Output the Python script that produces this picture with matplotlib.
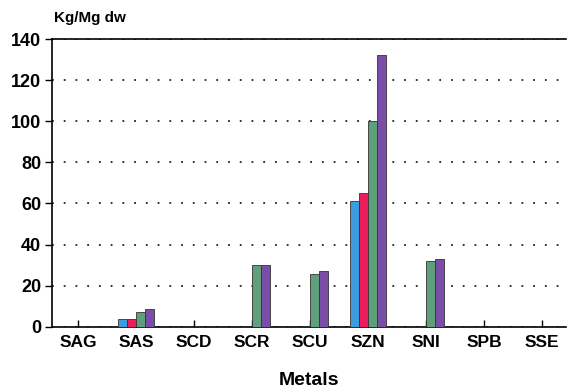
import numpy as np
import matplotlib.pyplot as plt

plt.rcParams['font.family'] = ['Liberation Sans', 'DejaVu Sans']

metals = ["SAG", "SAS", "SCD", "SCR", "SCU", "SZN", "SNI", "SPB", "SSE"]
# four series per metal (blue, red, green, purple); 0 = no bar
blue = [0, 4, 0, 0, 0, 61, 0, 0, 0]
red = [0, 4, 0, 0, 0, 65, 0, 0, 0]
green = [0, 7, 0, 30, 25.5, 100, 32, 0, 0]
purple = [0, 8.5, 0, 30, 27, 132, 33, 0, 0]

series = [blue, red, green, purple]
colors = ["#3b9ce0", "#ec1d5c", "#5f9f7c", "#7a4ea6"]

fig = plt.figure(figsize=(5.67, 3.9), dpi=100)
ax = fig.add_axes([0.092, 0.162, 0.906, 0.738])

x = np.arange(len(metals))
w = 0.155
for i, (vals, c) in enumerate(zip(series, colors)):
    v = np.array(vals, dtype=float)
    mask = v > 0
    ax.bar(x[mask] + (i - 1.5) * w, v[mask], width=w, color=c,
           edgecolor="#333333", linewidth=0.6, zorder=3)

ax.set_xlim(-0.45, 8.41)
ax.set_ylim(0, 140)
ax.set_yticks(range(0, 141, 20))
ax.set_xticks(x)
ax.set_xticklabels(metals, fontsize=12.5, fontweight="bold")
for lab in ax.get_yticklabels():
    lab.set_fontsize(13)
    lab.set_fontweight("bold")

ax.yaxis.grid(True, linestyle=(0, (1, 5.5)), color="#222222", linewidth=1.3, zorder=0)
ax.tick_params(axis="x", direction="in", length=5, width=1, pad=6)
ax.tick_params(axis="y", direction="out", length=5, width=1, pad=3)

for s in ["left", "top", "bottom"]:
    ax.spines[s].set_linewidth(1.2)
ax.spines["right"].set_visible(False)

ax.set_xlabel("Metals", fontsize=14, fontweight="bold", labelpad=16)
fig.text(0.095, 0.955, "Kg/Mg dw", fontsize=11, fontweight="bold", ha="left", va="center")

fig.savefig("out.png", dpi=100)
